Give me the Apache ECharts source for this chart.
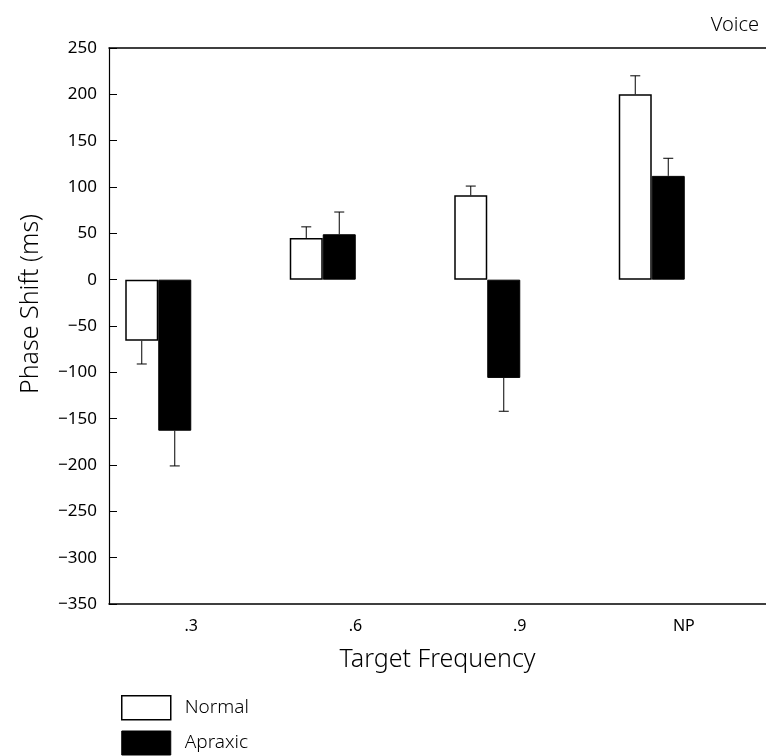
<!DOCTYPE html>
<html>
<head>
<meta charset="utf-8">
<script src="https://cdn.jsdelivr.net/npm/echarts@6/dist/echarts.min.js"></script>
<style>
  html, body { margin: 0; padding: 0; background: #fff; }
  #chart { width: 766px; height: 756px; }
</style>
</head>
<body>
<div id="chart"></div>
<script>
// Phase shift by target frequency, normal vs apraxic speakers (voice)
const categories = ['.3', '.6', '.9', 'NP'];
const normal = [-66, 45, 91, 200];
const normalErr = [25, 12, 10, 20];
const apraxic = [-163, 49, -106, 112];
const apraxicErr = [38, 24, 36, 19];

const FONT = 'Noto Sans';
const BAR_W = 33;

function errData(vals, errs) {
  return vals.map((v, i) => [i, v, errs[i]]);
}

// one-sided error bar (away from zero), with a small cap
function errRenderer(offset) {
  return function (params, api) {
    const idx = api.value(0);
    const v = api.value(1);
    const e = api.value(2);
    const end = v >= 0 ? v + e : v - e;
    const p0 = api.coord([idx, v]);
    const p1 = api.coord([idx, end]);
    const x = p0[0] + offset;
    const style = { stroke: '#000', lineWidth: 1 };
    return {
      type: 'group',
      children: [
        { type: 'line', shape: { x1: x, y1: p0[1], x2: x, y2: p1[1] }, style: style },
        { type: 'line', shape: { x1: x - 5, y1: p1[1], x2: x + 5, y2: p1[1] }, style: style }
      ]
    };
  };
}

const chart = echarts.init(document.getElementById('chart'));

const option = {
  animation: false,
  textStyle: { fontFamily: FONT, color: '#000' },
  title: {
    text: 'Voice',
    right: 2,
    top: 10,
    textStyle: { fontFamily: FONT, fontSize: 20, fontWeight: 300, color: '#000' }
  },
  legend: {
    orient: 'vertical',
    left: 116,
    top: 690,
    height: 80,
    itemWidth: 49,
    itemHeight: 24,
    itemGap: 10,
    icon: 'rect',
    textStyle: { fontFamily: FONT, fontSize: 19, fontWeight: 300, color: '#000', padding: [0, 0, 0, 9] },
    data: [
      { name: 'Normal', itemStyle: { color: '#fff', borderColor: '#000', borderWidth: 1.5 } },
      { name: 'Apraxic', itemStyle: { color: '#000', borderColor: '#000', borderWidth: 1 } }
    ]
  },
  grid: [
    // bars
    { left: 76, right: 32, top: 48, bottom: 152 },
    // frame, ticks and labels
    { left: 109, right: -5, top: 48, bottom: 152 }
  ],
  xAxis: [
    {
      gridIndex: 0,
      type: 'category',
      data: categories,
      axisLine: { show: false },
      axisTick: { show: false },
      axisLabel: { show: false }
    },
    {
      gridIndex: 1,
      type: 'category',
      data: categories,
      position: 'bottom',
      axisLine: { show: true, onZero: false, lineStyle: { color: '#000', width: 1.5 } },
      axisTick: { show: false },
      axisLabel: { margin: 14, fontSize: 16, fontFamily: FONT, color: '#000' },
      name: 'Target Frequency',
      nameLocation: 'middle',
      nameGap: 43,
      nameTextStyle: { fontSize: 25, fontFamily: FONT, fontWeight: 300, color: '#000' }
    },
    {
      gridIndex: 1,
      type: 'category',
      data: categories,
      position: 'top',
      axisLine: { show: true, onZero: false, lineStyle: { color: '#000', width: 1.5 } },
      axisTick: { show: false },
      axisLabel: { show: false }
    }
  ],
  yAxis: [
    {
      gridIndex: 0,
      type: 'value',
      min: -350,
      max: 250,
      interval: 50,
      show: false
    },
    {
      gridIndex: 1,
      type: 'value',
      min: -350,
      max: 250,
      interval: 50,
      axisLine: { show: true, lineStyle: { color: '#000', width: 1.2 } },
      axisTick: { show: true, inside: true, length: 8, lineStyle: { color: '#000' } },
      axisLabel: {
        margin: 12,
        fontSize: 17,
        fontFamily: FONT,
        color: '#000',
        formatter: (v) => String(v).replace('-', '\u2212')
      },
      splitLine: { show: false },
      name: 'Phase Shift (ms)',
      nameLocation: 'middle',
      nameGap: 66,
      nameTextStyle: { fontSize: 25, fontFamily: FONT, fontWeight: 300, color: '#000', padding: [0, 0, 0, 44] }
    }
  ],
  series: [
    {
      name: 'Normal',
      type: 'bar',
      xAxisIndex: 0,
      yAxisIndex: 0,
      data: normal,
      barWidth: BAR_W,
      barGap: '0%',
      itemStyle: { color: '#fff', borderColor: '#000', borderWidth: 1.5 }
    },
    {
      name: 'Apraxic',
      type: 'bar',
      xAxisIndex: 0,
      yAxisIndex: 0,
      data: apraxic,
      barWidth: BAR_W,
      barGap: '0%',
      itemStyle: { color: '#000', borderColor: '#000', borderWidth: 1 }
    },
    {
      name: 'Normal err',
      type: 'custom',
      xAxisIndex: 0,
      yAxisIndex: 0,
      data: errData(normal, normalErr),
      encode: { x: 0, y: 1 },
      renderItem: errRenderer(-BAR_W / 2),
      z: 3
    },
    {
      name: 'Apraxic err',
      type: 'custom',
      xAxisIndex: 0,
      yAxisIndex: 0,
      data: errData(apraxic, apraxicErr),
      encode: { x: 0, y: 1 },
      renderItem: errRenderer(BAR_W / 2),
      z: 3
    }
  ]
};

chart.setOption(option);
</script>
</body>
</html>
